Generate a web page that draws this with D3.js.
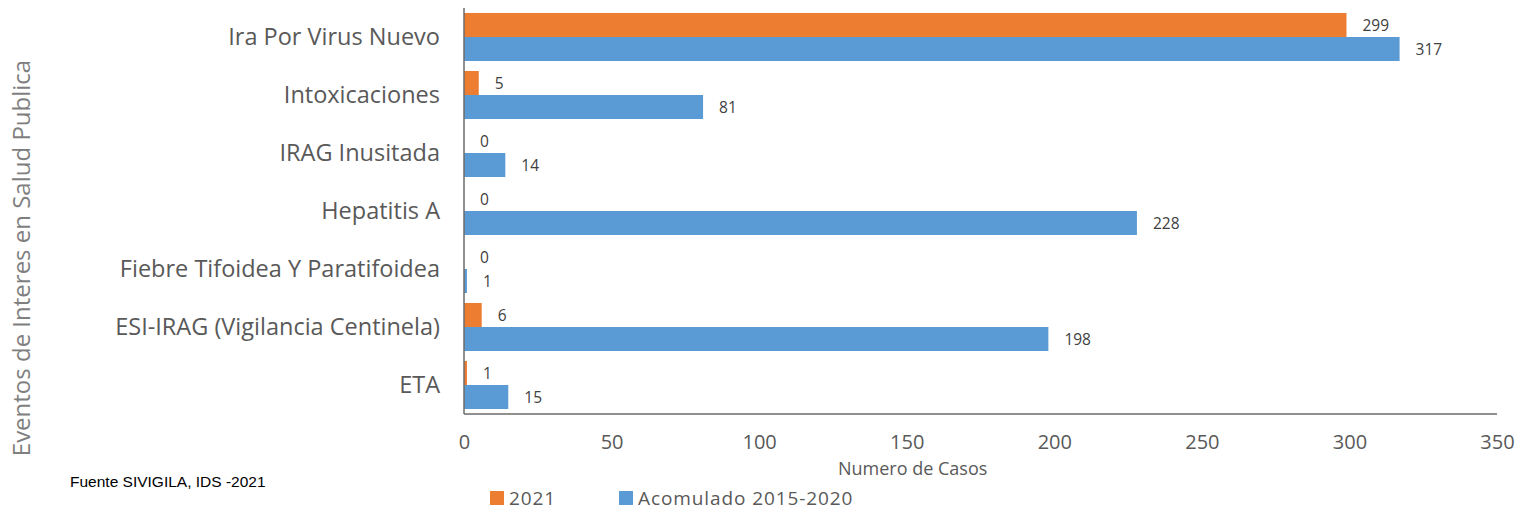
<!DOCTYPE html>
<html>
<head>
<meta charset="utf-8">
<style>
  body { margin: 0; background: #fff; }
  text { font-family: "Open Sans", Lato, sans-serif; }
</style>
</head>
<body>
<script src="https://cdn.jsdelivr.net/npm/d3@7"></script>
<script>

// data
var categories = ["Ira Por Virus Nuevo", "Intoxicaciones", "IRAG Inusitada", "Hepatitis A",
                  "Fiebre Tifoidea Y Paratifoidea", "ESI-IRAG (Vigilancia Centinela)", "ETA"];
var series = ["2021", "Acomulado 2015-2020"];
var casos2021 = [299, 5, 0, 0, 0, 6, 1];
var acumulado = [317, 81, 14, 228, 1, 198, 15];
var xTicks = [0, 50, 100, 150, 200, 250, 300, 350];

var colors = ["#ED7D31", "#5B9BD5"];

var W = 1533, H = 511;
var m = {t: 8, r: 36, b: 97, l: 464};
var w = W - m.l - m.r;
var h = H - m.t - m.b;

var rows = categories.map(function(c, i) {
  return {cat: c, vals: [casos2021[i], acumulado[i]]};
});

var svg = d3.select("body").append("svg")
    .attr("width", W)
    .attr("height", H);

var g = svg.append("g").attr("transform", "translate(" + m.l + "," + m.t + ")");

var x = d3.scaleLinear().domain([0, 350]).range([0, w]);
var y = d3.scaleBand().domain(categories).range([0, h]).paddingInner(0.172).paddingOuter(0.086);
var ys = d3.scaleBand().domain(series).range([0, y.bandwidth()]);

// bars
var grp = g.selectAll("g.cat")
    .data(rows)
  .enter().append("g")
    .attr("class", "cat")
    .attr("transform", function(d) { return "translate(0," + y(d.cat) + ")"; });

grp.selectAll("rect")
    .data(function(d) { return d.vals.map(function(v, i) { return {s: series[i], v: v, i: i}; }); })
  .enter().append("rect")
    .attr("x", 0)
    .attr("y", function(d) { return ys(d.s); })
    .attr("width", function(d) { return x(d.v); })
    .attr("height", ys.bandwidth())
    .attr("fill", function(d) { return colors[d.i]; });

// value labels
grp.selectAll("text.val")
    .data(function(d) { return d.vals.map(function(v, i) { return {s: series[i], v: v}; }); })
  .enter().append("text")
    .attr("class", "val")
    .attr("x", function(d) { return x(d.v) + 16; })
    .attr("y", function(d) { return ys(d.s) + ys.bandwidth() / 2; })
    .attr("dy", "0.36em")
    .style("font-size", "15.5px")
    .style("fill", "#404040")
    .text(function(d) { return d.v; });

// x axis (labels only, no ticks)
var xAxis = d3.axisBottom(x).tickValues(xTicks).tickSize(0).tickPadding(21);
var xg = g.append("g")
    .attr("transform", "translate(0," + h + ")")
    .call(xAxis);
xg.select(".domain").remove();
xg.selectAll("text").style("font-size", "20px").style("fill", "#595959").style("font-family", "Open Sans");

// axis lines
g.append("line").attr("x1", 0).attr("x2", w).attr("y1", h).attr("y2", h)
    .attr("stroke", "#6b6b6b").attr("stroke-width", 1.5);
g.append("line").attr("x1", 0).attr("x2", 0).attr("y1", 0).attr("y2", h)
    .attr("stroke", "#6b6b6b").attr("stroke-width", 1.5);

// y axis labels
var yAxis = d3.axisLeft(y).tickSize(0).tickPadding(24);
var yg = g.append("g").call(yAxis);
yg.select(".domain").remove();
yg.selectAll("text").style("font-size", "23.5px").style("fill", "#595959").style("font-family", "Open Sans");

// axis titles
svg.append("text")
    .attr("x", m.l + x(152))
    .attr("y", 475)
    .style("text-anchor", "middle")
    .style("font-size", "18px")
    .style("fill", "#595959")
    .text("Numero de Casos");

svg.append("text")
    .attr("transform", "translate(30,258) rotate(-90)")
    .style("text-anchor", "middle")
    .style("font-size", "24px")
    .style("fill", "#7f7f7f")
    .text("Eventos de Interes en Salud Publica");

// source
svg.append("text")
    .attr("x", 70)
    .attr("y", 487)
    .style("font-family", "'Liberation Sans', Arial, sans-serif")
    .style("font-size", "15.5px")
    .style("fill", "#000")
    .text("Fuente SIVIGILA, IDS -2021");

// legend
var legX = [490, 619];
var leg = svg.selectAll("g.leg")
    .data(series)
  .enter().append("g")
    .attr("class", "leg")
    .attr("transform", function(d, i) { return "translate(" + legX[i] + ",491)"; });
leg.append("rect")
    .attr("width", 14).attr("height", 14)
    .attr("fill", function(d, i) { return colors[i]; });
leg.append("text")
    .attr("x", 19)
    .attr("y", 7)
    .attr("dy", "0.36em")
    .style("font-size", "19px")
    .style("letter-spacing", "0.9px")
    .style("fill", "#595959")
    .text(function(d) { return d; });

</script>
</body>
</html>
